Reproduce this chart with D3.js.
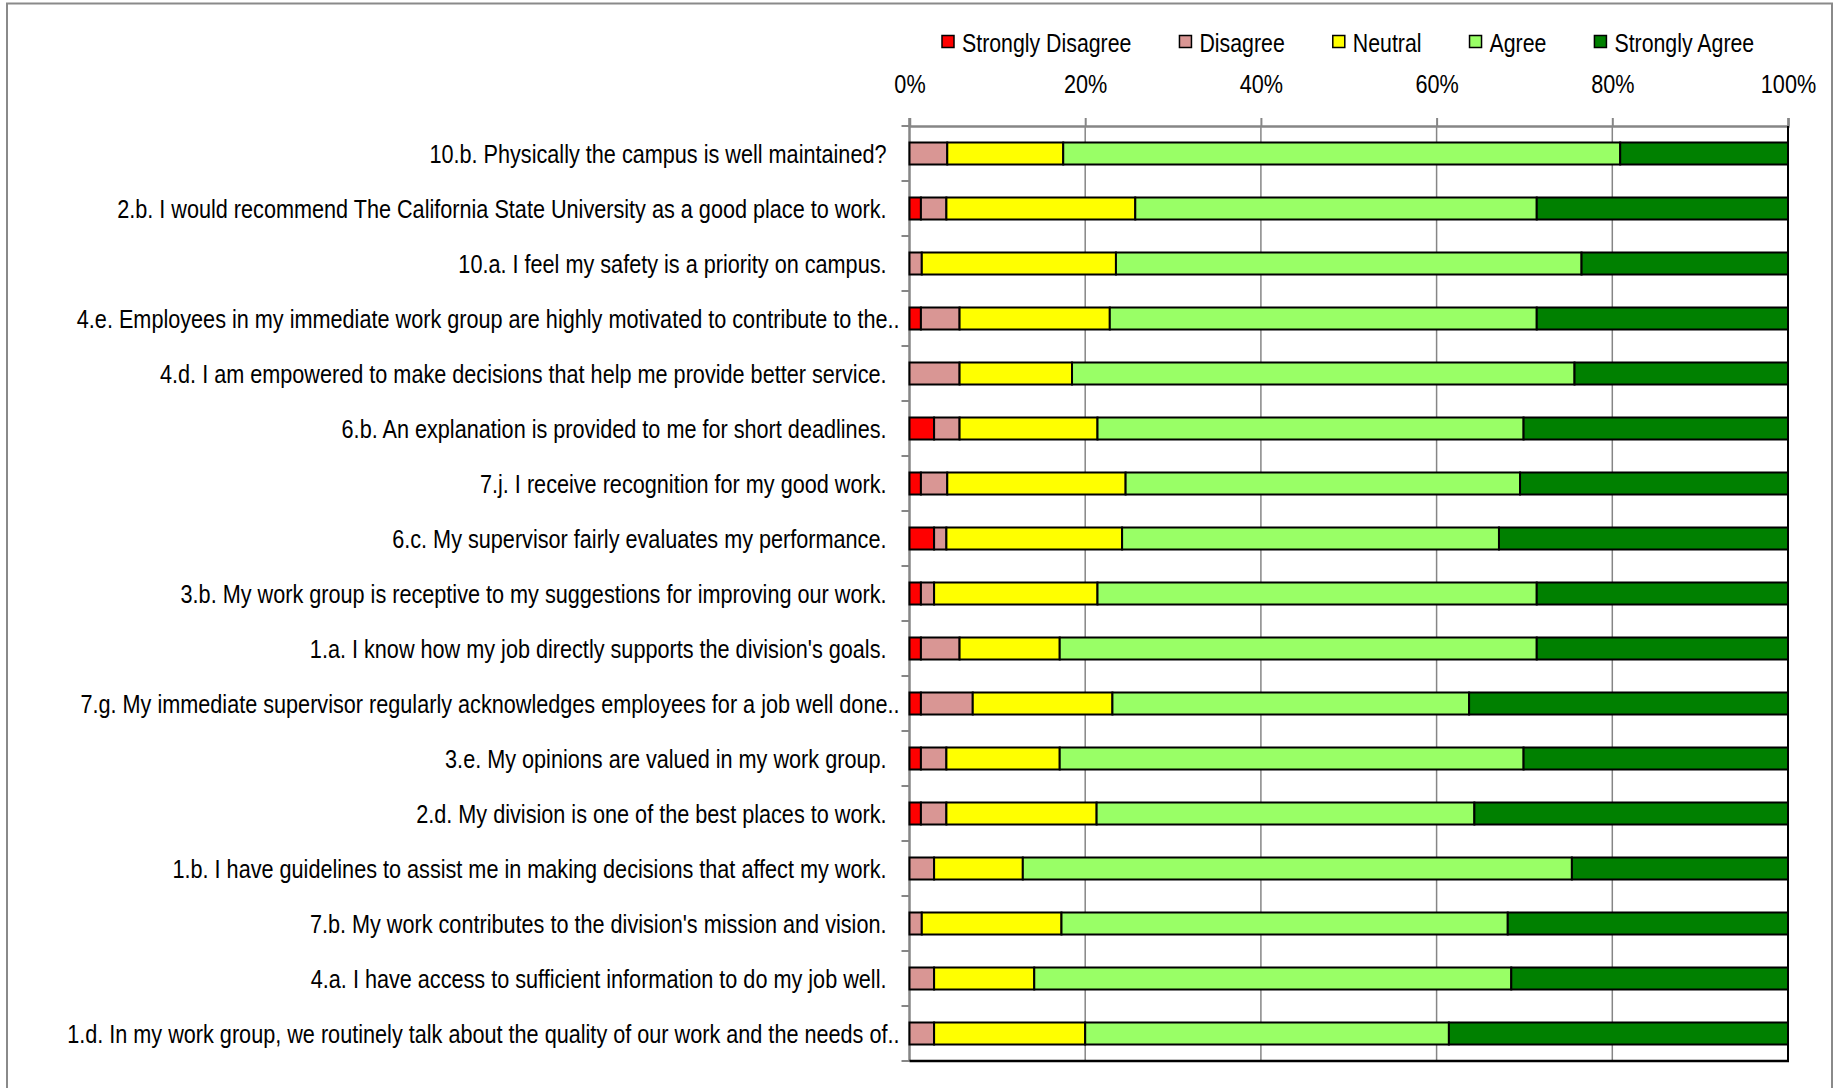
<!DOCTYPE html>
<html>
<head>
<meta charset="utf-8">
<script src="https://cdn.jsdelivr.net/npm/d3@7/dist/d3.min.js"></script>
<style>
  html, body { margin: 0; padding: 0; background: #fff; }
  svg { display: block; }
  text { font-family: "Liberation Sans", Arial, sans-serif; fill: #000; }
</style>
</head>
<body>
<svg id="chart" width="1837" height="1088"></svg>
<script>
const categories = [
  "10.b. Physically the campus is well maintained?",
  "2.b. I would recommend The California State University as a good place to work.",
  "10.a. I feel my safety is a priority on campus.",
  "4.e. Employees in my immediate work group are highly motivated to contribute to the..",
  "4.d. I am empowered to make decisions that help me provide better service.",
  "6.b. An explanation is provided to me for short deadlines.",
  "7.j. I receive recognition for my good work.",
  "6.c. My supervisor fairly evaluates my performance.",
  "3.b. My work group is receptive to my suggestions for improving our work.",
  "1.a. I know how my job directly supports the division's goals.",
  "7.g. My immediate supervisor regularly acknowledges employees for a job well done..",
  "3.e. My opinions are valued in my work group.",
  "2.d. My division is one of the best places to work.",
  "1.b. I have guidelines to assist me in making decisions that affect my work.",
  "7.b. My work contributes to the division's mission and vision.",
  "4.a. I have access to sufficient information to do my job well.",
  "1.d. In my work group, we routinely talk about the quality of our work and the needs of.."
];
const seriesNames = ["Strongly Disagree", "Disagree", "Neutral", "Agree", "Strongly Agree"];
const seriesColors = ["#FF0000", "#D99694", "#FFFF00", "#99FF66", "#008000"];
const stronglyDisagree = [0, 1.3, 0, 1.3, 0, 2.8, 1.3, 2.8, 1.3, 1.3, 1.3, 1.3, 1.3, 0, 0, 0, 0];
const disagree         = [4.3, 2.9, 1.4, 4.4, 5.7, 2.9, 3.0, 1.4, 1.5, 4.4, 5.9, 2.9, 2.9, 2.8, 1.4, 2.8, 2.8];
const neutral          = [13.2, 21.5, 22.1, 17.1, 12.8, 15.7, 20.3, 20.0, 18.6, 11.4, 15.9, 12.9, 17.1, 10.1, 15.9, 11.4, 17.2];
const agree            = [63.4, 45.7, 53.0, 48.6, 57.2, 48.5, 44.9, 42.9, 50.0, 54.3, 40.6, 52.8, 43.0, 62.5, 50.8, 54.3, 41.4];
const stronglyAgree    = [19.1, 28.6, 23.5, 28.6, 24.3, 30.1, 30.5, 32.9, 28.6, 28.6, 36.3, 30.1, 35.7, 24.6, 31.9, 31.5, 38.6];
const xTicks = [0, 20, 40, 60, 80, 100];

const seriesValues = [stronglyDisagree, disagree, neutral, agree, stronglyAgree];
const rows = categories.map((c, i) => {
  const r = { category: c };
  seriesNames.forEach((s, k) => { r[s] = seriesValues[k][i]; });
  return r;
});

const NARROW = 0.833, NARROW_LEGEND = 0.82;
const FS = 26;
const svg = d3.select("#chart");
const W = 1837, H = 1088;
const margin = { left: 909.5, right: W - 1788, top: 126, bottom: H - 1061 };
const x0 = margin.left, x1 = W - margin.right, y0 = margin.top, y1 = H - margin.bottom;

// outer frame
svg.append("rect").attr("x", 7).attr("y", 3.5).attr("width", 1825).attr("height", 1200)
  .attr("fill", "none").attr("stroke", "#8a8a8a").attr("stroke-width", 2);

const x = d3.scaleLinear().domain([0, 100]).range([x0, x1]);
const y = d3.scaleBand().domain(categories).range([y0, y1]).paddingInner(0.6).paddingOuter(0.3);
const yBand = d3.scaleBand().domain(categories).range([y0, y1]);

// gridlines
svg.append("g").selectAll("line").data(xTicks.filter(t => t > 0 && t < 100)).join("line")
  .attr("x1", d => x(d)).attr("x2", d => x(d)).attr("y1", y0).attr("y2", y1)
  .attr("stroke", "#868686").attr("stroke-width", 1.5);

// top axis
const xAxis = d3.axisTop(x).tickValues(xTicks).tickFormat(d => d + "%").tickSize(8).tickPadding(25);
const gx = svg.append("g").attr("class", "xaxis").attr("transform", `translate(0,${y0})`).call(xAxis);
gx.select(".domain").attr("stroke", "#868686").attr("stroke-width", 2.5);
gx.selectAll(".tick line").attr("stroke", "#868686").attr("stroke-width", 2);
gx.selectAll(".tick text").attr("font-size", FS).attr("fill", "#000")
  .style("font-family", '"Liberation Sans", Arial, sans-serif');

// left axis ticks at band boundaries
const boundaries = categories.map(c => yBand(c)).concat([y1]);
svg.append("g").selectAll("line").data(boundaries).join("line")
  .attr("x1", x0 - 8).attr("x2", x0).attr("y1", d => d).attr("y2", d => d)
  .attr("stroke", "#868686").attr("stroke-width", 2);
svg.append("line").attr("x1", x0).attr("x2", x0).attr("y1", y0 - 8).attr("y2", y1)
  .attr("stroke", "#868686").attr("stroke-width", 2.5);

// bars
const stacked = d3.stack().keys(seriesNames)(rows);
svg.append("g").selectAll("g").data(stacked).join("g")
  .attr("fill", (d, i) => seriesColors[i])
  .selectAll("rect").data(d => d.filter(s => s[1] - s[0] > 0)).join("rect")
  .attr("x", d => x(d[0])).attr("width", d => x(d[1]) - x(d[0]))
  .attr("y", d => y(d.data.category)).attr("height", y.bandwidth())
  .attr("stroke", "#000").attr("stroke-width", 2);

// right & bottom border
svg.append("line").attr("x1", x1).attr("x2", x1).attr("y1", y0).attr("y2", y1 + 1)
  .attr("stroke", "#000").attr("stroke-width", 2);
svg.append("line").attr("x1", x0).attr("x2", x1 + 1).attr("y1", y1).attr("y2", y1)
  .attr("stroke", "#000").attr("stroke-width", 2.5);

// category labels
svg.append("g").attr("class", "ylabels").selectAll("text").data(categories).join("text")
  .attr("x", d => x0 - 23 + (d.endsWith("..") ? 13 : 0))
  .attr("y", d => yBand(d) + yBand.bandwidth() / 2)
  .attr("dy", "0.35em")
  .attr("text-anchor", "end").attr("font-size", FS)
  .text(d => d);

// legend
const legend = svg.append("g").attr("class", "legend");
let lx = 942;
seriesNames.forEach((s, i) => {
  const g = legend.append("g");
  g.append("rect").attr("x", lx).attr("y", 35.5).attr("width", 12).attr("height", 12)
    .attr("fill", seriesColors[i]).attr("stroke", "#000").attr("stroke-width", 1.5);
  const t = g.append("text").attr("x", lx + 20).attr("y", 51.5).attr("font-size", FS).text(s);
  lx += 20 + t.node().getComputedTextLength() * NARROW_LEGEND + 48;
});

// condense all text horizontally (narrow typeface look)
function condense(sel, k) {
  sel.each(function () {
    const t = d3.select(this);
    const tx = +t.attr("x") || 0, ty = +t.attr("y") || 0;
    t.attr("x", 0).attr("y", 0).attr("transform", `translate(${tx},${ty}) scale(${k},1)`);
  });
}
condense(svg.selectAll(".xaxis text, .ylabels text"), NARROW);
condense(svg.selectAll(".legend text"), NARROW_LEGEND);
</script>
</body>
</html>
